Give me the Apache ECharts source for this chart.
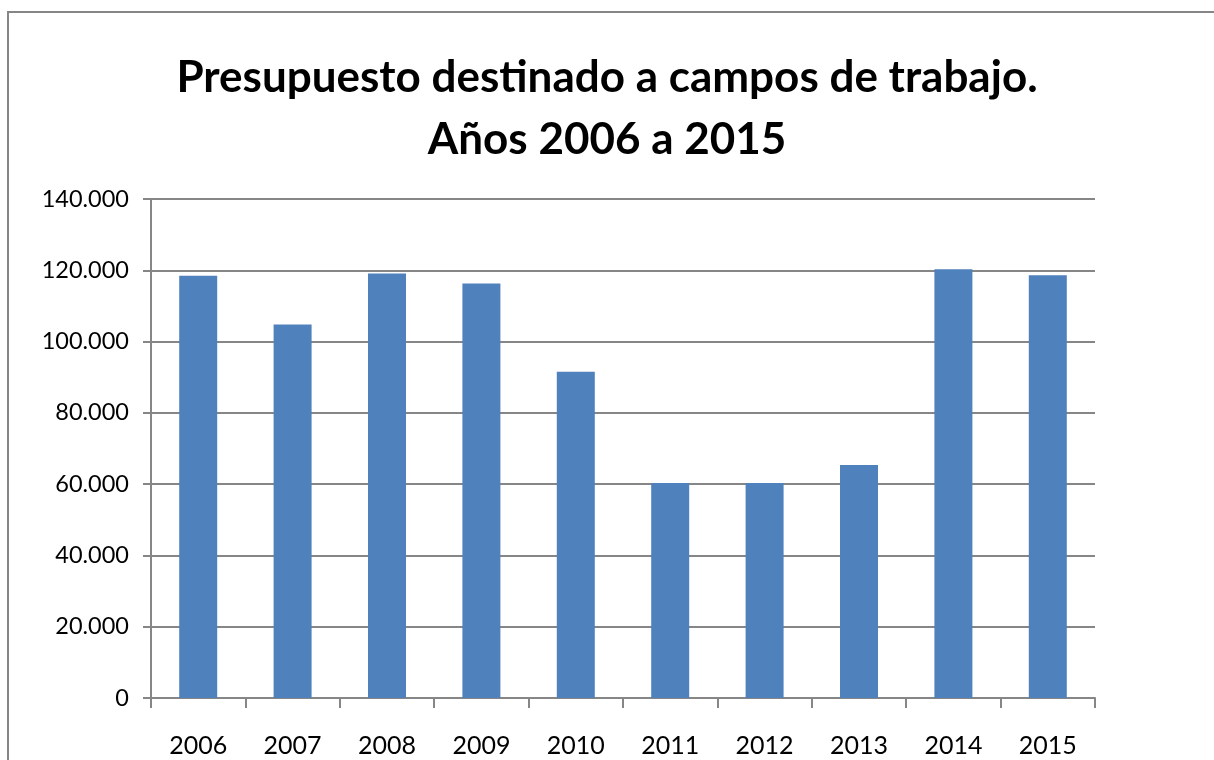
<!DOCTYPE html>
<html>
<head>
<meta charset="utf-8">
<title>Presupuesto campos de trabajo</title>
<script src="https://cdn.jsdelivr.net/npm/echarts@6/dist/echarts.min.js"></script>
<style>
	html, body { margin: 0; padding: 0; background: #fff; }
	#frame {
		position: absolute; left: 7px; top: 11px; width: 1220px; height: 800px;
		border-left: 2px solid #868686; border-top: 2px solid #868686;
	}
	#main { position: absolute; left: 0; top: 0; width: 1214px; height: 760px; }
</style>
</head>
<body>
<div id="frame"></div>
<div id="main"></div>
<script>
// años
var years = ["2006", "2007", "2008", "2009", "2010", "2011", "2012", "2013", "2014", "2015"];
// presupuesto (euros)
var budget = [118500, 104800, 119100, 116300, 91500, 60300, 60300, 65400, 120300, 118600];
// eje vertical
var yMin = 0, yMax = 140000, yStep = 20000;

function puntos(v) {
	return String(v).replace(/\B(?=(\d{3})+(?!\d))/g, ".");
}

var myChart = echarts.init(document.getElementById("main"));

var option = {
	animation: false,
	title: {
		text: "Presupuesto destinado a campos de trabajo.\nAños 2006 a 2015",
		left: "center",
		top: 42,
		textStyle: {
			fontFamily: "Lato",
			fontWeight: "bold",
			fontSize: 44,
			lineHeight: 62,
			color: "#000"
		}
	},
	grid: { left: 151, right: 119, top: 199, bottom: 62 },
	xAxis: {
		type: "category",
		data: years,
		axisLine: { lineStyle: { color: "#868686", width: 2 } },
		axisTick: { show: true, length: 10, alignWithLabel: false, lineStyle: { color: "#868686", width: 2 } },
		axisLabel: { color: "#000", fontFamily: "Lato", fontSize: 25, margin: 35 }
	},
	yAxis: {
		type: "value",
		min: yMin,
		max: yMax,
		interval: yStep,
		axisLine: { show: true, lineStyle: { color: "#868686", width: 2 } },
		axisTick: { show: true, length: 8, lineStyle: { color: "#868686", width: 2 } },
		splitLine: { lineStyle: { color: "#868686", width: 2 } },
		axisLabel: {
			color: "#000", fontFamily: "Lato", fontSize: 23.5, margin: 22,
			formatter: function (v) { return puntos(v); }
		}
	},
	series: [{
		type: "bar",
		data: budget,
		barWidth: 38,
		itemStyle: { color: "#4F81BD" }
	}]
};

myChart.setOption(option);
</script>
</body>
</html>
